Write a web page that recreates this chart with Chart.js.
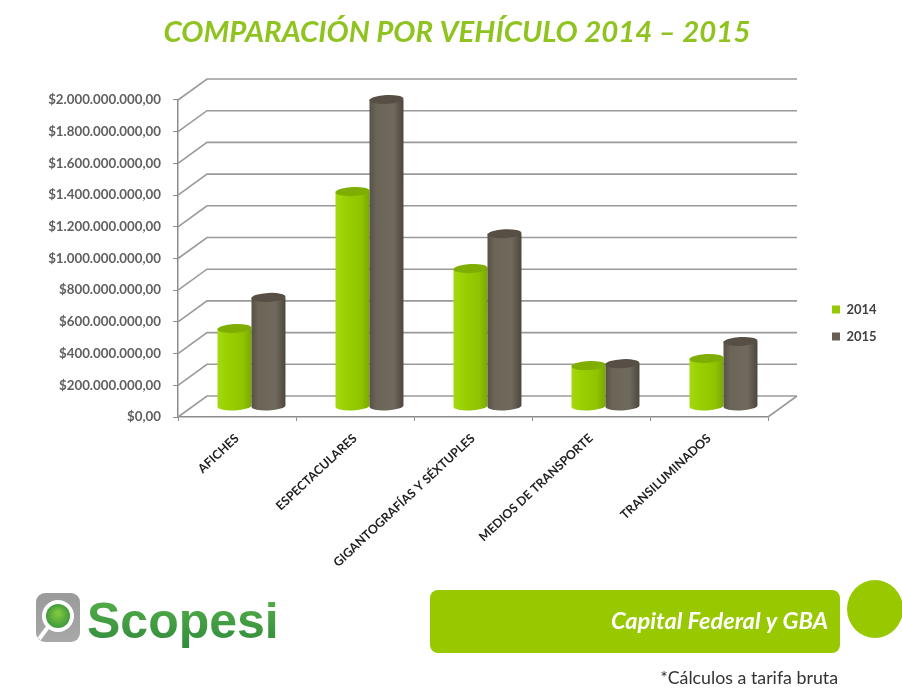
<!DOCTYPE html>
<html lang="es">
<head>
<meta charset="utf-8">
<title>Comparación por vehículo 2014 – 2015</title>
<script src="https://cdn.jsdelivr.net/npm/chart.js@4"></script>
<style>
html,body{margin:0;padding:0;background:#fff;overflow:hidden}
canvas{display:block;filter:blur(0.45px)}
</style>
</head>
<body>
<canvas id="c" width="902" height="698"></canvas>
<script>
const categories = ["AFICHES","ESPECTACULARES","GIGANTOGRAFÍAS Y SÉXTUPLES","MEDIOS DE TRANSPORTE","TRANSILUMINADOS"];
const values2014 = [492000000,1356000000,870000000,258000000,303000000];
const values2015 = [688000000,1937000000,1090000000,270000000,410000000];
const yTickLabels = ["$0,00","$200.000.000,00","$400.000.000,00","$600.000.000,00","$800.000.000,00","$1.000.000.000,00","$1.200.000.000,00","$1.400.000.000,00","$1.600.000.000,00","$1.800.000.000,00","$2.000.000.000,00"];
const titleText = "COMPARACIÓN POR VEHÍCULO 2014 – 2015";

const DEPTH_X = 29, DEPTH_Y = -21;
const GREEN = "#97c800";
const GRAY = "#666055";

function cylinder(ctx, x0, x1, yTop, yBase, stops, topColor){
  const cx = (x0+x1)/2, rx = (x1-x0)/2, ry = 4.5, tilt = -0.05;
  const g = ctx.createLinearGradient(x0,0,x1,0);
  stops.forEach(s => g.addColorStop(s[0], s[1]));
  ctx.beginPath();
  ctx.moveTo(x0,yTop);
  ctx.lineTo(x0,yBase);
  ctx.ellipse(cx,yBase,rx,ry,tilt,Math.PI,0,true);
  ctx.lineTo(x1,yTop);
  ctx.closePath();
  ctx.fillStyle = g;
  ctx.fill();
  ctx.beginPath();
  ctx.ellipse(cx,yTop,rx,ry,tilt,0,Math.PI*2);
  ctx.fillStyle = topColor;
  ctx.fill();
}

const scene = {
  id:"scene",
  afterLayout(chart){
    const l = chart.legend;
    if(l){ const w=l.width,h=l.height; l.left=818; l.right=818+w; l.top=289; l.bottom=289+h; }
    const t = chart.titleBlock;
    if(t){ t.left=12; t.right=902; t.width=890; }
  },
  beforeDatasetsDraw(chart){
    const {ctx,chartArea:a,scales:{y}} = chart;
    ctx.save();
    ctx.lineWidth = 1.6;
    ctx.strokeStyle = "#9a9a9a";
    y.ticks.forEach(t=>{
      const p = y.getPixelForValue(t.value);
      ctx.beginPath();
      ctx.moveTo(a.left,p);
      ctx.lineTo(a.left+DEPTH_X,p+DEPTH_Y);
      ctx.lineTo(a.right+DEPTH_X,p+DEPTH_Y);
      ctx.stroke();
    });
    ctx.beginPath();
    ctx.moveTo(a.right,a.bottom);
    ctx.lineTo(a.right+DEPTH_X,a.bottom+DEPTH_Y);
    ctx.stroke();
    const dx = DEPTH_X/2, dy = DEPTH_Y/2;
    const styles = [
      {stops:[[0,"#a4d810"],[0.3,"#9ad000"],[0.75,"#8fc400"],[1,"#79a800"]],top:"#7fae00"},
      {stops:[[0,"#575146"],[0.2,"#6b6558"],[0.7,"#706a5e"],[1,"#4c463c"]],top:"#574f45"}
    ];
    [0,1].forEach(i=>{
      chart.getDatasetMeta(i).data.forEach(el=>{
        const w = el.width;
        cylinder(ctx, el.x-w/2+dx, el.x+w/2+dx, el.y+dy, el.base+dy, styles[i].stops, styles[i].top);
      });
    });
    ctx.restore();
  },
  beforeDatasetDraw(){ return false; },
  afterDraw(chart){
    const ctx = chart.ctx;
    ctx.save();
    // banner
    ctx.fillStyle = "#97c800";
    ctx.beginPath(); ctx.roundRect(430,590,410,63,8); ctx.fill();
    ctx.beginPath(); ctx.ellipse(875,609,28,29,0,0,Math.PI*2); ctx.fill();
    ctx.fillStyle = "#fff";
    ctx.font = "italic 700 23.6px Lato";
    ctx.textAlign = "right"; ctx.textBaseline = "middle";
    ctx.fillText("Capital Federal y GBA",828,621);
    ctx.fillStyle = "#333";
    ctx.font = "17.8px Lato";
    ctx.fillText("*Cálculos a tarifa bruta",838,678);
    // logo mark: gray rounded square holding a magnifying glass
    const mg = ctx.createLinearGradient(0,593,0,642);
    mg.addColorStop(0,"#9a9a9a"); mg.addColorStop(1,"#a8a8a8");
    ctx.fillStyle = mg;
    ctx.beginPath(); ctx.roundRect(36,593,44,49,9); ctx.fill();
    ctx.strokeStyle = "#fff"; ctx.lineWidth = 4;
    ctx.beginPath(); ctx.moveTo(48,627); ctx.lineTo(39,639); ctx.stroke();
    ctx.fillStyle = "#fff";
    ctx.beginPath(); ctx.arc(58,616,16,0,Math.PI*2); ctx.fill();
    const gg = ctx.createRadialGradient(58,613,2,58,616,12);
    gg.addColorStop(0,"#7cc53f"); gg.addColorStop(1,"#3f9a3a");
    ctx.fillStyle = gg;
    ctx.beginPath(); ctx.arc(58,616,12,0,Math.PI*2); ctx.fill();
    // logo word
    const lg = ctx.createLinearGradient(0,598,0,650);
    lg.addColorStop(0,"#55ad48"); lg.addColorStop(1,"#2f8a3c");
    ctx.fillStyle = lg;
    ctx.font = "700 50px 'Liberation Sans'";
    ctx.textAlign = "left"; ctx.textBaseline = "alphabetic";
    ctx.fillText("Scopesi",87,638);
    ctx.restore();
  }
};

new Chart(document.getElementById("c"),{
  type:"bar",
  plugins:[scene],
  data:{
    labels:categories,
    datasets:[
      {label:"2014",data:values2014,backgroundColor:GREEN,categoryPercentage:0.576,barPercentage:1},
      {label:"2015",data:values2015,backgroundColor:GRAY,categoryPercentage:0.576,barPercentage:1}
    ]
  },
  options:{
    responsive:false,
    animation:false,
    layout:{autoPadding:false,padding:{left:0,right:134,top:0,bottom:0}},
    plugins:{
      tooltip:{enabled:false},
      title:{display:true,text:titleText,color:"#8fc31f",
        font:{family:"Lato",size:29.4,weight:"700",style:"italic"},
        padding:{top:15,bottom:49.7}},
      legend:{display:true,position:"chartArea",align:"start",
        labels:{boxWidth:8,boxHeight:8,padding:14,color:"#404040",
          font:{family:"Lato",size:13,weight:"700"}}}
    },
    scales:{
      x:{
        afterFit(s){s.height=281;},
        grid:{drawOnChartArea:false,drawTicks:true,tickLength:4,color:"#8c8c8c"},
        border:{color:"#8c8c8c",width:1.5},
        ticks:{minRotation:43,maxRotation:43,padding:10,color:"#222",autoSkip:false,
          font:{family:"Lato",size:12.3,weight:"700"}}
      },
      y:{
        min:0,max:2000000000,
        afterFit(s){s.width=178;},
        grid:{drawOnChartArea:false,drawTicks:true,tickLength:5,color:"#8c8c8c"},
        border:{color:"#8c8c8c",width:1.5},
        ticks:{stepSize:200000000,padding:12,color:"#5f5f5f",
          font:{family:"Lato",size:13.3,weight:"700"},
          callback(v,i){return yTickLabels[i];}}
      }
    }
  }
});
</script>
</body>
</html>
